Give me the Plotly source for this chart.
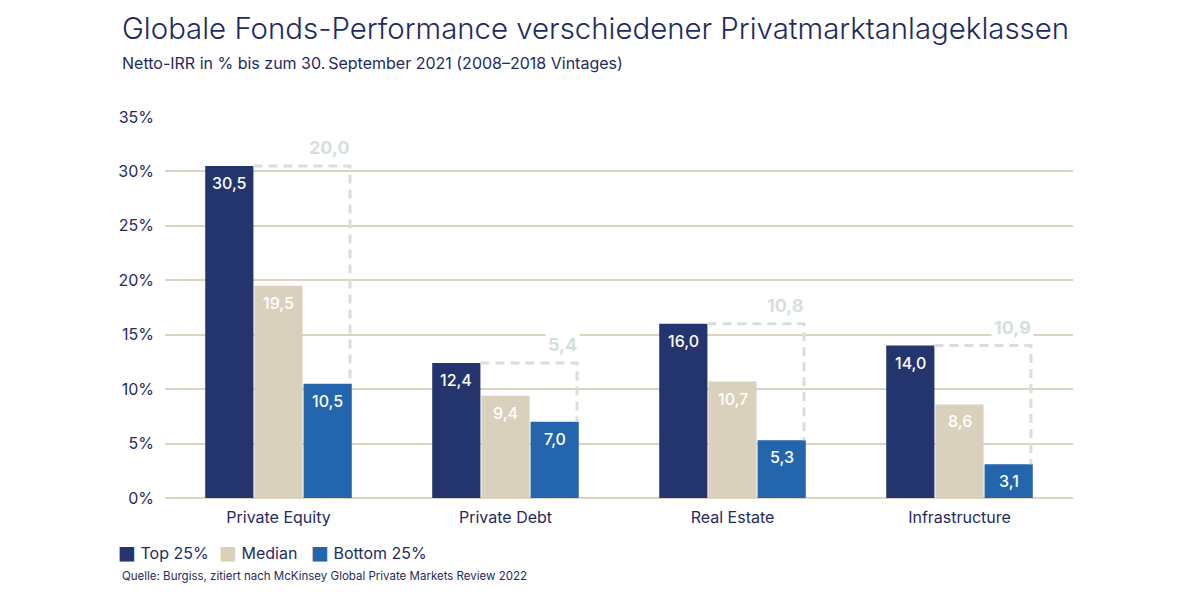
import plotly.graph_objects as go

# data
categories = ["Private Equity", "Private Debt", "Real Estate", "Infrastructure"]
top25 = [30.5, 12.4, 16.0, 14.0]
median = [19.5, 9.4, 10.7, 8.6]
bottom25 = [10.5, 7.0, 5.3, 3.1]
spread_labels = ["20,0", "5,4", "10,8", "10,9"]
y_ticks = [0, 5, 10, 15, 20, 25, 30, 35]
series_names = ["Top 25%", "Median", "Bottom 25%"]

NAVY = "#24346c"
BEIGE = "#dad1bd"
BLUE = "#2366ad"
GRID = "#ddd4c0"
DASH = "#d6dfde"
TEXT = "#1f2b5e"
FONT = "Inter"

xs = list(range(len(categories)))
bargap = 0.35
groupgap = 0.02
slot = (1 - bargap) / 3
half_w = slot * (1 - groupgap) / 2


def de(v):
    return f"{v:.1f}".replace(".", ",")


fig = go.Figure()
annotations = []
series = [top25, median, bottom25]
colors = [NAVY, BEIGE, BLUE]
for k, (name, vals, col) in enumerate(zip(series_names, series, colors)):
    fig.add_trace(go.Bar(
        x=xs, y=vals, name=name, marker=dict(color=col, line=dict(width=0)),
        hoverinfo="skip", showlegend=False,
    ))
    # value labels just below the top of each bar
    for i, v in zip(xs, vals):
        annotations.append(dict(
            x=i + (k - 1) * slot, y=v, xref="x", yref="y", text=de(v),
            showarrow=False, xanchor="center", yanchor="middle", yshift=-17,
            font=dict(color="white", size=16, family=FONT, weight=500),
        ))

# dashed bracket from top of Top 25% bar across and down to the Bottom 25% bar
bx, by = [], []
for i, t, b in zip(xs, top25, bottom25):
    left = i - slot + half_w
    right = i + slot + half_w - 0.008
    bx += [left, right, right, None]
    by += [t, t, b, None]
fig.add_trace(go.Scatter(
    x=bx, y=by, mode="lines", showlegend=False, hoverinfo="skip",
    line=dict(color=DASH, width=3, dash="9px,6px"),
))

for i, t, lab in zip(xs, top25, spread_labels):
    annotations.append(dict(
        x=i + slot + half_w + 0.005, y=t, xref="x", yref="y", text=f"<b>{lab}</b>",
        showarrow=False, xanchor="right", yanchor="bottom", yshift=5,
        font=dict(color=DASH, size=18, family=FONT), bgcolor="white", borderpad=2,
    ))

# legend drawn as text items
legend_x = [-0.0535, 0.0575, 0.1585]
for lx, name, col in zip(legend_x, series_names, colors):
    annotations.append(dict(
        x=lx, y=-0.142, xref="paper", yref="paper", xanchor="left", yanchor="middle",
        text=f"<span style='color:{col};font-size:19px;font-family:DejaVu Sans'>■</span> {name}",
        showarrow=False, font=dict(size=16, color=TEXT, family=FONT),
    ))

annotations += [
    dict(x=-0.0495, y=1.232, xref="paper", yref="paper", xanchor="left", yanchor="middle",
         text="Globale Fonds-Performance verschiedener Privatmarktanlageklassen",
         showarrow=False, font=dict(size=29.4, color=TEXT, family=FONT, weight=300)),
    dict(x=-0.0495, y=1.142, xref="paper", yref="paper", xanchor="left", yanchor="middle",
         text="Netto-IRR in % bis zum 30.\u2009September 2021 (2008–2018 Vintages)",
         showarrow=False, font=dict(size=16, color=TEXT, family=FONT)),
    dict(x=-0.0495, y=-0.205, xref="paper", yref="paper", xanchor="left", yanchor="middle",
         text="Quelle: Burgiss, zitiert nach McKinsey Global Private Markets Review 2022",
         showarrow=False, font=dict(size=11.5, color=TEXT, family=FONT)),
]

fig.update_layout(
    width=1200, height=600,
    margin=dict(l=157, r=135, t=109, b=110, autoexpand=False),
    paper_bgcolor="white", plot_bgcolor="white",
    barmode="group", bargap=bargap, bargroupgap=groupgap,
    font=dict(family=FONT, color=TEXT),
    annotations=annotations,
    showlegend=False,
)
fig.update_xaxes(
    range=[-0.5, 3.5], tickvals=xs, ticktext=categories, showgrid=False,
    tickfont=dict(size=16, color=TEXT), zeroline=False, showline=False, ticks="",
    ticklabelstandoff=8,
)
fig.update_yaxes(
    range=[0, 35], tickvals=y_ticks, ticktext=[f"{v}%" for v in y_ticks],
    showgrid=True, gridcolor=GRID,
    gridwidth=2, zeroline=True, zerolinecolor=GRID, zerolinewidth=2,
    tickfont=dict(size=16, color=TEXT), ticks="", ticklabelstandoff=10,
)

fig.write_html("out.html")
